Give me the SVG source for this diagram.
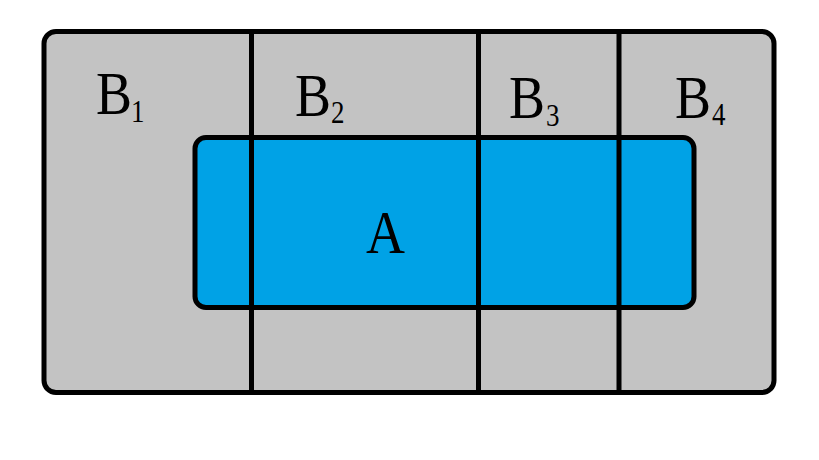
<svg xmlns="http://www.w3.org/2000/svg" width="819" height="460" viewBox="0 0 819 460">
<style>
.box{stroke:#000;stroke-width:5}
.div{stroke:#000;stroke-width:5;fill:none}
.lbl{font-family:"Liberation Serif","DejaVu Serif",serif;font-size:62px;fill:#000}
.sub{font-size:31px}
</style>
<rect width="819" height="460" fill="#fff"/>
<g id="B">
<rect class="box" x="44" y="31.5" width="730" height="361" rx="12" fill="#c3c3c3"/>
</g>
<g id="A">
<rect class="box" x="195" y="137.5" width="499" height="170" rx="11" fill="#00a2e6"/>
</g>
<g id="dividers">
<line class="div" x1="251.5" y1="31.5" x2="251.5" y2="392.5"/>
<line class="div" x1="478.5" y1="31.5" x2="478.5" y2="392.5"/>
<line class="div" x1="619" y1="31.5" x2="619" y2="392.5"/>
</g>
<g id="labels">
<text class="lbl" transform="translate(96 114) scale(0.87 1)">B<tspan class="sub" x="40.2" dy="8">1</tspan></text>
<text class="lbl" transform="translate(295 116) scale(0.87 1)">B<tspan class="sub" x="41.4" dy="6.5">2</tspan></text>
<text class="lbl" transform="translate(509 117.5) scale(0.87 1)">B<tspan class="sub" x="42.5" dy="8.5">3</tspan></text>
<text class="lbl" transform="translate(675 117.5) scale(0.87 1)">B<tspan class="sub" x="42.5" dy="7">4</tspan></text>
<text class="lbl" transform="translate(366 253) scale(0.87 1)">A</text>
</g>
</svg>
